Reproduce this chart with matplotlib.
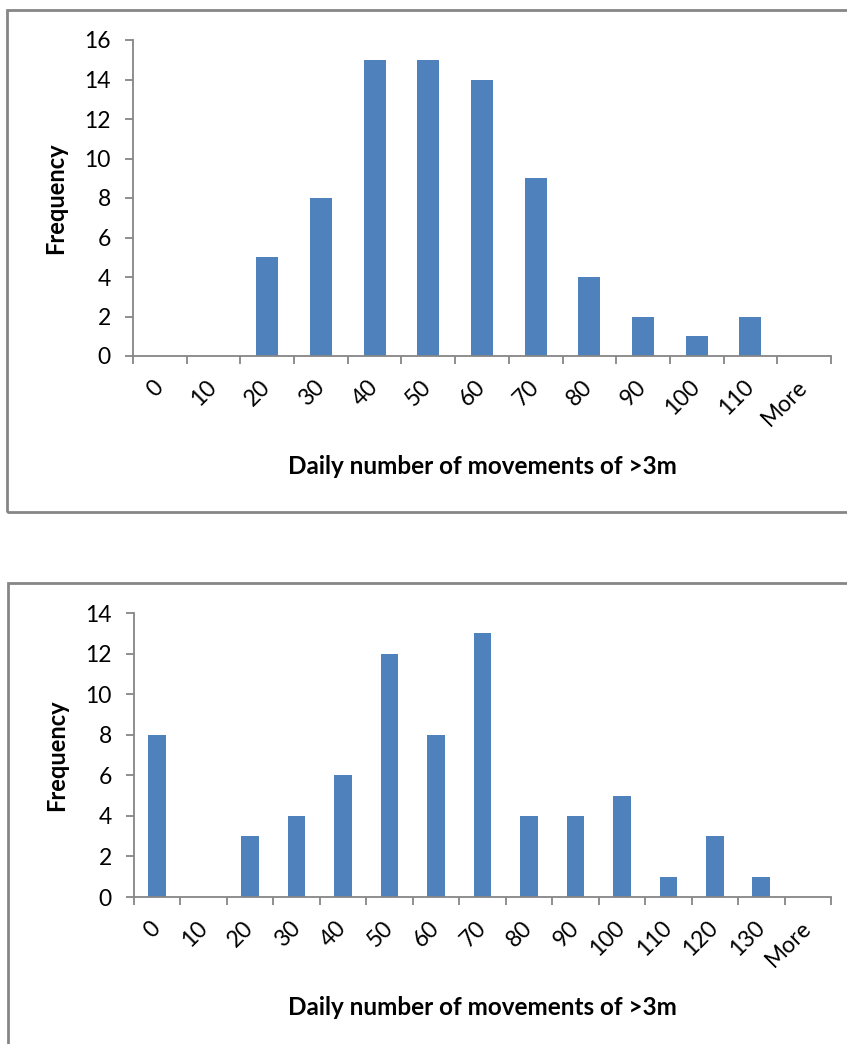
import matplotlib
matplotlib.use("Agg")
import matplotlib.pyplot as plt
from matplotlib.patches import Rectangle

top_bins = ["0", "10", "20", "30", "40", "50", "60", "70", "80", "90", "100", "110", "More"]
top_freq = [0, 0, 5, 8, 15, 15, 14, 9, 4, 2, 1, 2, 0]

bottom_bins = ["0", "10", "20", "30", "40", "50", "60", "70", "80", "90", "100",
               "110", "120", "130", "More"]
bottom_freq = [8, 0, 3, 4, 6, 12, 8, 13, 4, 4, 5, 1, 3, 1, 0]

BAR_COLOR = "#4F81BD"
AXIS_COLOR = "#868686"
FONT = ["Lato", "DejaVu Sans"]

W, H = 847, 1044
plt.rcParams["font.family"] = FONT

fig = plt.figure(figsize=(W / 100, H / 100), dpi=100)


def px_box(x0, y0, x1, y1):
    # pixel box (top-left origin) -> figure fraction rect
    return [x0 / W, 1 - y1 / H, (x1 - x0) / W, (y1 - y0) / H]


def draw_hist(rect, bins, freq, ymax, step, bar_w):
    ax = fig.add_axes(rect)
    x = list(range(len(bins)))
    ax.bar(x, freq, width=bar_w, color=BAR_COLOR, zorder=2)
    ax.set_xlim(-0.5, len(bins) - 0.5)
    ax.set_ylim(0, ymax)
    for side in ("top", "right"):
        ax.spines[side].set_visible(False)
    for side in ("left", "bottom"):
        ax.spines[side].set_color(AXIS_COLOR)
        ax.spines[side].set_linewidth(1.3)
    ax.set_yticks(range(0, ymax + 1, step))
    ax.tick_params(axis="y", direction="out", length=6, width=1.3,
                   color=AXIS_COLOR, labelsize=16.5, pad=10)
    # ticks between categories, labels at category centres
    ax.set_xticks([i - 0.5 for i in range(len(bins) + 1)])
    ax.set_xticklabels([])
    ax.tick_params(axis="x", which="major", direction="out", length=6,
                   width=1.3, color=AXIS_COLOR)
    ax.set_xticks(x, minor=True)
    ax.set_xticklabels(bins, minor=True, rotation=45, ha="right",
                       va="center", rotation_mode="anchor", fontsize=16.5)
    ax.tick_params(axis="x", which="minor", length=0, pad=20)
    ax.set_ylabel("Frequency", fontsize=17, fontweight="bold", labelpad=12)
    ax.set_xlabel("Daily number of movements of >3m", fontsize=17.5,
                  fontweight="bold", labelpad=18)
    return ax


# chart borders
for (x0, y0, x1, y1) in [(7, 10, 900, 512), (8, 583, 900, 1100)]:
    fig.patches.append(Rectangle((x0 / W, 1 - y1 / H), (x1 - x0) / W, (y1 - y0) / H,
                                 transform=fig.transFigure, fill=False,
                                 edgecolor=AXIS_COLOR, linewidth=2))

draw_hist(px_box(133, 40, 831, 356), top_bins, top_freq, 16, 2, 0.41)
draw_hist(px_box(134, 613, 831, 897), bottom_bins, bottom_freq, 14, 2, 0.38)

fig.savefig("out.png", dpi=100)
